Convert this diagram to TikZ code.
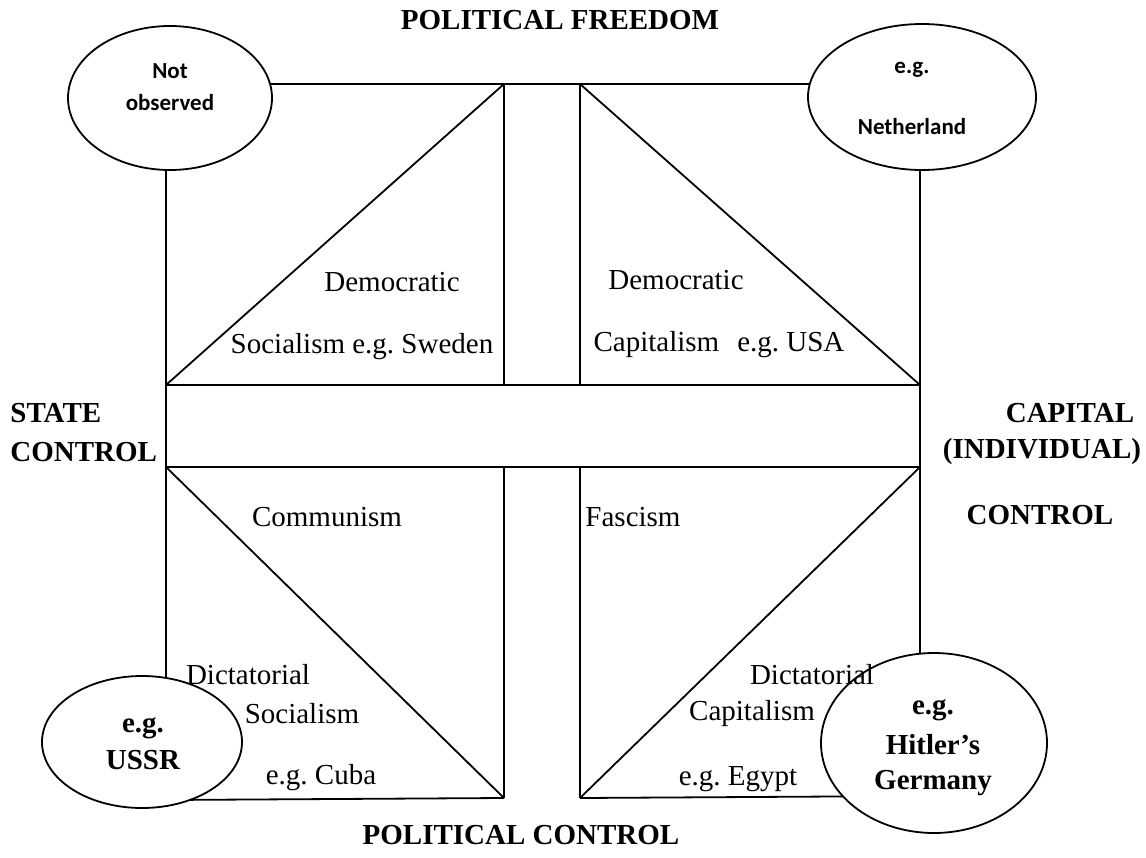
\documentclass[tikz,border=0pt]{standalone}
\usepackage{fontspec}
\setmainfont{Liberation Serif}
\newfontfamily\calibfont{Carlito}
\usetikzlibrary{shapes.geometric}
\frenchspacing
\begin{document}
\begin{tikzpicture}[x=0.5pt,y=-0.5pt,
  ln/.style={line width=0.9pt},
  oval/.style={ellipse,draw,line width=0.9pt,fill=white,inner sep=0pt},
  txt/.style={font=\fontsize{14.5}{17}\selectfont, inner sep=0pt},
  btxt/.style={font=\fontsize{14.5}{17}\selectfont\bfseries, inner sep=0pt},
  stxt/.style={font=\calibfont\fontsize{11.5}{14}\selectfont\bfseries, inner sep=0pt}]
\useasboundingbox (0,0) rectangle (1146,857);
% frame coordinates
\coordinate (tl) at (166,84);
\coordinate (tr) at (920,84);
\coordinate (bl) at (166,800);
\coordinate (br) at (920,796);
\coordinate (ml1) at (166,385);
\coordinate (mr1) at (920,385);
\coordinate (ml2) at (166,467);
\coordinate (mr2) at (920,467);
\coordinate (c1t) at (504,84);
\coordinate (c2t) at (580,84);
\coordinate (c1a) at (504,385);
\coordinate (c2a) at (580,385);
\coordinate (c1b) at (504,467);
\coordinate (c2b) at (580,467);
\coordinate (c1c) at (504,798);
\coordinate (c2c) at (580,798);
% frame lines
\draw[ln] (tl) -- (tr);
\draw[ln] (tl) -- (bl);
\draw[ln] (tr) -- (br);
\draw[ln] (bl) -- (c1c);
\draw[ln] (c2c) -- (br);
\draw[ln] (ml1) -- (mr1);
\draw[ln] (ml2) -- (mr2);
\draw[ln] (c1t) -- (c1a);
\draw[ln] (c2t) -- (c2a);
\draw[ln] (c1b) -- (c1c);
\draw[ln] (c2b) -- (c2c);
\draw[ln] (ml1) -- (c1t);
\draw[ln] (c2t) -- (mr1);
\draw[ln] (ml2) -- (c1c);
\draw[ln] (c2c) -- (mr2);
% ellipses
\node[oval,minimum width=102pt,minimum height=72pt] (e1) at (170,98) {};
\node[oval,minimum width=114pt,minimum height=73pt] (e2) at (922,97) {};
\node[oval,minimum width=100pt,minimum height=66pt] (e3) at (142,742) {};
\node[oval,minimum width=113pt,minimum height=90pt] (e4) at (934,743) {};
% ellipse texts
\node[stxt] (t1a) at (170,71) {Not};
\node[stxt] (t1b) at (170,103) {observed};
\node[stxt] (t2a) at (912,70) {e.g.};
\node[stxt] (t2b) at (912,127) {Netherland};
\node[btxt] (t3a) at (143,728) {e.g.};
\node[btxt] (t3b) at (143,760) {USSR};
\node[btxt] (t4a) at (933,710) {e.g.};
\node[btxt] (t4b) at (933,745) {Hitler’s};
\node[btxt] (t4c) at (933,783) {Germany};
% axis labels
\node[btxt] (pf) at (560,20) {POLITICAL FREEDOM};
\node[btxt] (pc) at (521,835) {POLITICAL CONTROL};
\node[btxt,anchor=west] (sc1) at (10,413) {STATE};
\node[btxt,anchor=west] (sc2) at (10,452) {CONTROL};
\node[btxt] (cc1) at (1070,413) {CAPITAL};
\node[btxt] (cc2) at (1042,452) {(INDIVIDUAL)};
\node[btxt] (cc3) at (1040,515) {CONTROL};
% quadrant texts
\node[txt] (q1a) at (392,282) {Democratic};
\node[txt] (q1b) at (362,347) {Socialism e.g. Sweden};
\node[txt] (q2a) at (676,280) {Democratic};
\node[txt] (q2b) at (719,345) {Capitalism\hspace{9pt}e.g. USA};
\node[txt] (q3a) at (327,517) {Communism};
\node[txt] (q3b) at (248,675) {Dictatorial};
\node[txt] (q3c) at (302,714) {Socialism};
\node[txt] (q3d) at (321,778) {e.g. Cuba};
\node[txt] (q4a) at (633,517) {Fascism};
\node[txt] (q4b) at (812,675) {Dictatorial};
\node[txt] (q4c) at (752,714) {Capitalism};
\node[txt] (q4d) at (738,779) {e.g. Egypt};
\end{tikzpicture}
\end{document}
